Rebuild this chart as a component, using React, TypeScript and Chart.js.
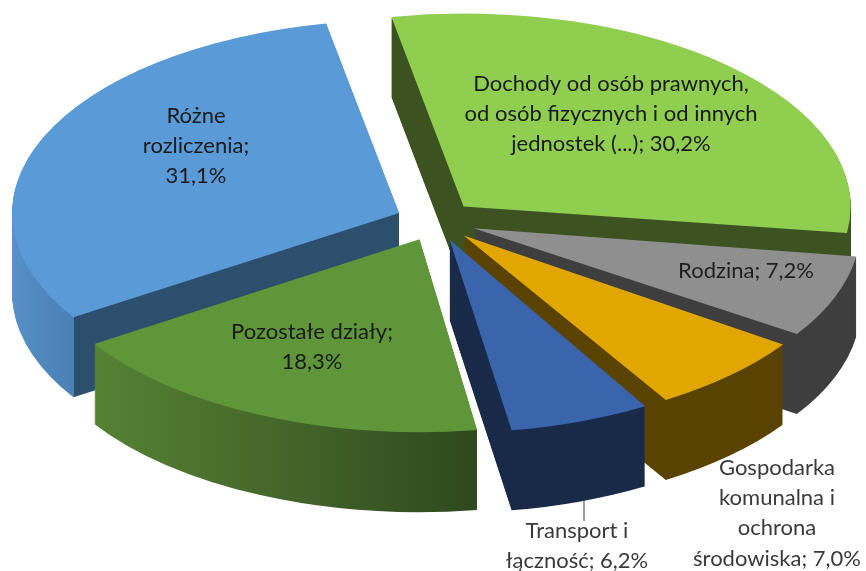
import React, { useEffect, useRef } from "react";
import { Chart, registerables } from "chart.js";

Chart.register(...registerables);

const categories = [
  ["Dochody od osób prawnych,", "od osób fizycznych i od innych", "jednostek (...); 30,2%"],
  ["Rodzina; 7,2%"],
  ["Gospodarka", "komunalna i", "ochrona", "środowiska; 7,0%"],
  ["Transport i", "łączność; 6,2%"],
  ["Pozostałe działy;", "18,3%"],
  ["Różne", "rozliczenia;", "31,1%"],
];
const values = [30.2, 7.2, 7.0, 6.2, 18.3, 31.1];
const topColors = ["#90ce50", "#8f8f8f", "#e2a600", "#3a64ab", "#5f9639", "#5a9ad6"];

// wall shading: [screen x, colour]
const wallStops: [number, string][][] = [
  [[0, "#3d5221"], [866, "#3d5221"]],
  [[0, "#3e3e3e"], [866, "#3e3e3e"]],
  [[0, "#5a4300"], [866, "#5a4300"]],
  [[0, "#182a48"], [866, "#182a48"]],
  [[95, "#568234"], [300, "#426329"], [478, "#2d491d"]],
  [[12, "#5690c6"], [73.5, "#4a80b5"], [74.5, "#2c4f6e"], [400, "#2c4f6e"]],
];
const paintOrder = [0, 5, 1, 2, 4, 3];
const labelPlace: [number, number, string][] = [
  [611, 84, "#1a1a1a"],
  [746, 271, "#1f1f1f"],
  [777, 468, "#3a3a3a"],
  [577, 531, "#3a3a3a"],
  [312, 332, "#1a1a1a"],
  [196, 116, "#1a1a1a"],
];

const EXPLODE = 98;
const CX = 436, CY = 221, RX = 387, RY = 193, DEPTH = 80;

const pie3d = {
  id: "pie3d",
  beforeDatasetsDraw(chart: any) {
    const ctx: CanvasRenderingContext2D = chart.ctx;
    const arcs = chart.getDatasetMeta(0).data;
    for (const i of paintOrder) {
      const arc = arcs[i];
      const eff = arc.outerRadius;
      const sx = RX / eff, sy = RY / eff;
      const half = (arc.startAngle + arc.endAngle) / 2;
      const shiftX = Math.cos(half) * (EXPLODE / 4);
      const toChart = (X: number) => arc.x + (X - CX) / sx - shiftX;
      const stops = wallStops[i];
      const x0 = stops[0][0], x1 = stops[stops.length - 1][0];
      const grad = ctx.createLinearGradient(toChart(x0), 0, toChart(x1), 0);
      stops.forEach(([x, c]) => grad.addColorStop((x - x0) / (x1 - x0), c));
      // arc.draw widens narrow exploded slices; cancel that so every slice keeps one radius
      const fix = 1 - Math.sin(Math.min(Math.PI, arc.circumference));
      const paint = (depth: number, fill: any) => {
        const shim = Object.create(arc);
        shim.outerRadius = arc.outerRadius - (EXPLODE / 4) * fix;
        shim.options = {
          backgroundColor: fill, borderColor: "transparent", borderWidth: 0, borderAlign: "center",
          offset: EXPLODE, spacing: 0, borderRadius: 0, circular: true, borderJoinStyle: "round",
        };
        ctx.save();
        ctx.translate(CX, CY + depth);
        ctx.scale(sx, sy);
        ctx.translate(-arc.x, -arc.y);
        shim.draw(ctx);
        ctx.restore();
      };
      for (let d = DEPTH; d > 0; d--) paint(d, grad);
      paint(0, topColors[i]);
    }
    return false;
  },
  afterDraw(chart: any) {
    const ctx: CanvasRenderingContext2D = chart.ctx;
    ctx.save();
    ctx.strokeStyle = "#404040";
    ctx.lineWidth = 1;
    ctx.beginPath();
    ctx.moveTo(584, 500);
    ctx.lineTo(584, 521);
    ctx.stroke();
    ctx.font = '22px Lato';
    ctx.textAlign = "center";
    ctx.textBaseline = "middle";
    categories.forEach((lines, i) => {
      const [x, y, c] = labelPlace[i];
      ctx.fillStyle = c;
      lines.forEach((t, k) => ctx.fillText(t, x, y + k * 30.2));
    });
    ctx.restore();
  },
};

export default function App() {
  const ref = useRef<HTMLCanvasElement>(null);
  useEffect(() => {
    document.body.style.margin = "0";
    const chart = new Chart(ref.current!, {
      type: "pie",
      data: {
        labels: categories.map((l) => l.join(" ")),
        datasets: [{ data: values, backgroundColor: topColors, borderWidth: 0, offset: EXPLODE }],
      },
      options: {
        responsive: false,
        animation: false,
        rotation: -10.8,
        plugins: { legend: { display: false }, tooltip: { enabled: false } },
      },
      plugins: [pie3d],
    } as any);
    return () => chart.destroy();
  }, []);
  return <canvas ref={ref} width={866} height={571} style={{ display: "block" }} />;
}
